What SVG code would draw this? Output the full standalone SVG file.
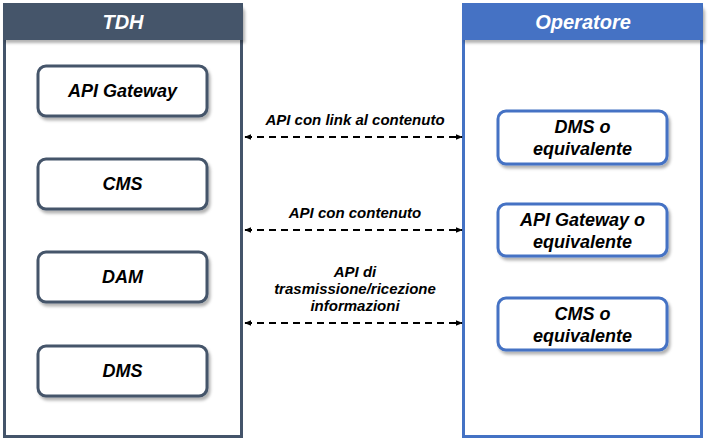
<svg xmlns="http://www.w3.org/2000/svg" width="712" height="440" viewBox="0 0 712 440">
<defs>
<filter id="sh" x="-10%" y="-10%" width="130%" height="140%">
<feDropShadow dx="2" dy="3" stdDeviation="1.5" flood-color="#000" flood-opacity="0.3"/>
</filter>
<marker id="ah" viewBox="0 0 10 10" refX="9" refY="5" markerWidth="7" markerHeight="7" orient="auto-start-reverse" markerUnits="userSpaceOnUse">
<path d="M0,1 L10,5 L0,9 Z" fill="#000"/>
</marker>
</defs>
<style>
text{font-family:"Liberation Sans",Arial,sans-serif;font-weight:bold;font-style:italic;text-anchor:middle;fill:#000}
.hd{fill:#fff;font-size:20px}
.bx{font-size:18px}
.lb{font-size:15px}
.lbox{fill:#fff;stroke:#44546A;stroke-width:3}
.rbox{fill:#fff;stroke:#4472C4;stroke-width:3}
.conn{stroke:#000;stroke-width:2;stroke-dasharray:7 5;fill:none;marker-start:url(#ah);marker-end:url(#ah)}
</style>
<g id="tdh">
<rect x="4.5" y="4.5" width="237" height="432" fill="#fff" stroke="#44546A" stroke-width="3"/>
<path d="M3,40 V11 Q3,3 11,3 H235 Q243,3 243,11 V40 Z" fill="#44546A" filter="url(#sh)"/>
<text class="hd" x="123" y="29">TDH</text>
</g>
<g id="operatore">
<rect x="463.5" y="4.5" width="238" height="432" fill="#fff" stroke="#4472C4" stroke-width="3"/>
<path d="M462,40 V11 Q462,3 470,3 H695 Q703,3 703,11 V40 Z" fill="#4472C4" filter="url(#sh)"/>
<text class="hd" x="583" y="29">Operatore</text>
</g>
<g id="api-gateway"><rect class="lbox" x="38" y="66" width="169" height="50" rx="8" filter="url(#sh)"/><text class="bx" x="122.5" y="97">API Gateway</text></g>
<g id="cms"><rect class="lbox" x="38" y="159" width="169" height="50" rx="8" filter="url(#sh)"/><text class="bx" x="122.5" y="190">CMS</text></g>
<g id="dam"><rect class="lbox" x="38" y="252" width="169" height="50" rx="8" filter="url(#sh)"/><text class="bx" x="122.5" y="283">DAM</text></g>
<g id="dms"><rect class="lbox" x="38" y="346" width="169" height="50" rx="8" filter="url(#sh)"/><text class="bx" x="122.5" y="377">DMS</text></g>
<g id="dms-eq"><rect class="rbox" x="498" y="111" width="169" height="53" rx="8" filter="url(#sh)"/><text class="bx" x="582.5" y="133">DMS o</text><text class="bx" x="582.5" y="155">equivalente</text></g>
<g id="api-gateway-eq"><rect class="rbox" x="498" y="204" width="169" height="52" rx="8" filter="url(#sh)"/><text class="bx" x="582.5" y="226">API Gateway o</text><text class="bx" x="582.5" y="248">equivalente</text></g>
<g id="cms-eq"><rect class="rbox" x="498" y="298" width="169" height="52" rx="8" filter="url(#sh)"/><text class="bx" x="582.5" y="320">CMS o</text><text class="bx" x="582.5" y="342">equivalente</text></g>
<g id="connectors">
<line class="conn" x1="245" y1="137" x2="462" y2="137"/>
<line class="conn" x1="245" y1="230" x2="462" y2="230"/>
<line class="conn" x1="245" y1="323" x2="462" y2="323"/>
<text class="lb" x="355" y="125">API con link al contenuto</text>
<text class="lb" x="355" y="218">API con contenuto</text>
<text class="lb" x="355" y="277">API di</text>
<text class="lb" x="355" y="294">trasmissione/ricezione</text>
<text class="lb" x="355" y="311">informazioni</text>
</g>
</svg>
